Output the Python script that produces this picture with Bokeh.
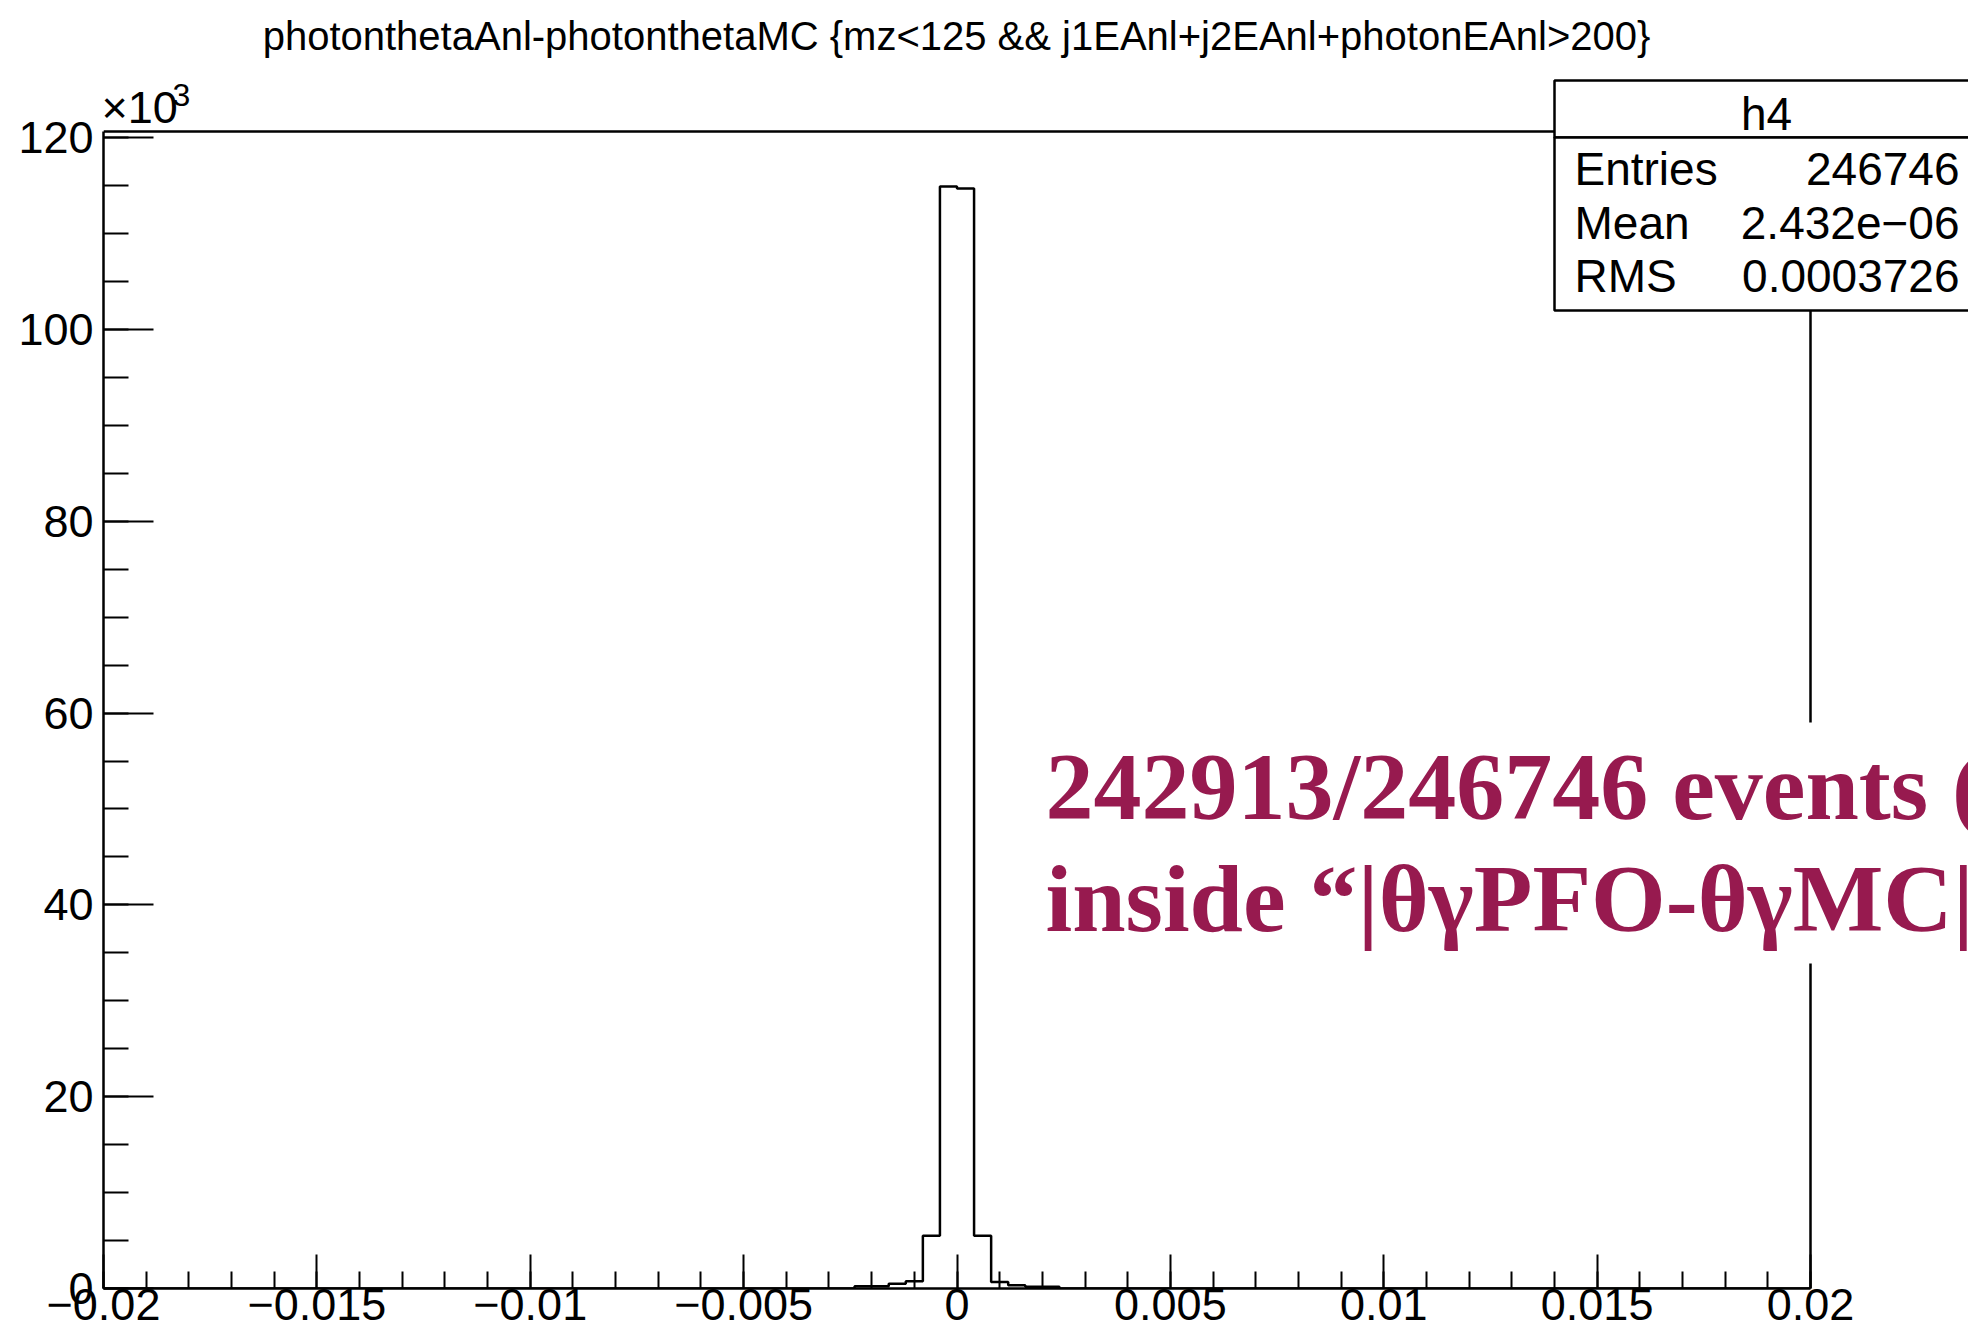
from bokeh.plotting import figure
from bokeh.models import Range1d, FixedTicker, Label, BoxAnnotation
from bokeh.embed import file_html
from bokeh.resources import INLINE

# Histogram h4: photonthetaAnl - photonthetaMC, 100 bins over [-0.02, 0.02]
x_lo, x_hi = -0.02, 0.02
bin_width = 0.0004
# lower edges of the non-empty bins and their contents
bin_low = [-0.0024, -0.0020, -0.0016, -0.0012, -0.0008, -0.0004,
           0.0000, 0.0004, 0.0008, 0.0012, 0.0016, 0.0020]
bin_counts = [240, 240, 490, 760, 5500, 114900,
              114700, 5500, 690, 350, 170, 170]

x_ticks = [-0.02, -0.015, -0.01, -0.005, 0.0, 0.005, 0.01, 0.015, 0.02]
x_tick_labels = ["\u22120.02", "\u22120.015", "\u22120.01", "\u22120.005", "0",
                 "0.005", "0.01", "0.015", "0.02"]
x_minor = [round(-0.02 + 0.001 * i, 4) for i in range(41)]
y_ticks = [0, 20000, 40000, 60000, 80000, 100000, 120000]
y_tick_labels = ["0", "20", "40", "60", "80", "100", "120"]
y_minor = [5000 * i for i in range(25)]

stats_name = "h4"
stats_rows = [("Entries", "246746"), ("Mean", "2.432e\u221206"), ("RMS", "0.0003726")]
title_text = "photonthetaAnl-photonthetaMC {mz<125 && j1EAnl+j2EAnl+photonEAnl>200}"
note_lines = ["242913/246746 events (", "inside \u201c|\u03b8\u03b3PFO-\u03b8\u03b3MC|"]

# canvas layout (pixels): the plotting frame fills everything right of the y axis
# and above the x axis; the histogram box itself spans L..AX_R, AX_T..(H-B)
W, H = 1968, 1338
L, B = 103, 50
AX_R, AX_T = 1810, 131
y_max = 1.05 * max(bin_counts)

ppx = (x_hi - x_lo) / (AX_R - L)
ppy = y_max / (H - B - AX_T)
x_frame_hi = x_lo + (W - L) * ppx
y_frame_hi = (H - B) * ppy

def xd(px):
    return x_lo + (px - L) * ppx

def yd(py):
    return (H - B - py) * ppy

def base(py, size):
    # anchor for a label whose alphabetic baseline should sit at pixel row py
    return yd(py - 0.355 * size)

p = figure(width=W, height=H, output_backend="svg", toolbar_location=None, title=None,
           x_range=Range1d(x_lo, x_frame_hi), y_range=Range1d(0, y_frame_hi),
           min_border_left=L, min_border_right=0, min_border_top=0, min_border_bottom=B,
           background_fill_color="white", border_fill_color="white",
           outline_line_color=None)
p.grid.visible = False

font = "Liberation Sans"
ax = p.xaxis[0]
ax.bounds = (x_lo, x_hi)
ax.ticker = FixedTicker(ticks=x_ticks, minor_ticks=x_minor)
ax.major_label_overrides = {t: s for t, s in zip(x_ticks, x_tick_labels)}
ax.major_tick_in, ax.major_tick_out = 34, 0
ax.minor_tick_in, ax.minor_tick_out = 17, 0
ax.axis_line_width = 2.5
ax.major_tick_line_width = 2
ax.minor_tick_line_width = 2
ax.major_label_text_font = font
ax.major_label_text_font_size = "45px"
ax.major_label_text_color = "black"
ax.major_label_standoff = 0

ay = p.yaxis[0]
ay.bounds = (0, y_max)
ay.ticker = FixedTicker(ticks=y_ticks, minor_ticks=y_minor)
ay.major_label_overrides = {t: s for t, s in zip(y_ticks, y_tick_labels)}
ay.major_tick_in, ay.major_tick_out = 50, 0
ay.minor_tick_in, ay.minor_tick_out = 25, 0
ay.axis_line_width = 2.5
ay.major_tick_line_width = 2
ay.minor_tick_line_width = 2
ay.major_label_text_font = font
ay.major_label_text_font_size = "45px"
ay.major_label_text_color = "black"
ay.major_label_standoff = 10

# top and right edges of the histogram box
p.line([x_lo, x_hi, x_hi], [y_max, y_max, 0], line_color="black", line_width=2.5)

# histogram outline
xs = [x_lo] + bin_low + [bin_low[-1] + bin_width, x_hi]
ys = [0] + bin_counts + [0, 0]
p.step(xs, ys, mode="after", line_color="black", line_width=2.5)

def text(px, py, s, size, align="left", color="black", fnt=font, style="normal"):
    p.add_layout(Label(x=xd(px), y=base(py, size), text=s, text_align=align,
                       text_baseline="alphabetic", text_font=fnt,
                       text_font_size=f"{size}px", text_font_style=style,
                       text_color=color))

# title
text(956, 50, title_text, 40, align="center")

# x10^3 multiplier
text(101, 123, "\u00d710", 45)
text(172, 106, "3", 32)

# statistics box
p.add_layout(BoxAnnotation(left=xd(1554), right=xd(1990), top=yd(80), bottom=yd(137),
                           fill_color="white", fill_alpha=1.0, line_color="black",
                           line_alpha=1.0, line_width=2.5, level="annotation"))
p.add_layout(BoxAnnotation(left=xd(1554), right=xd(1990), top=yd(137), bottom=yd(310),
                           fill_color="white", fill_alpha=1.0, line_color="black",
                           line_alpha=1.0, line_width=2.5, level="annotation"))
text(1766, 130, stats_name, 46, align="center")
for i, (k, v) in enumerate(stats_rows):
    yb = 185 + 53.5 * i
    text(1574, yb, k, 46)
    text(1959, yb, v, 46, align="right")

# annotation text on a white panel
p.add_layout(BoxAnnotation(left=xd(1040), right=xd(1990), top=yd(722), bottom=yd(963),
                           fill_color="white", fill_alpha=1.0, line_color=None,
                           level="annotation"))
for i, line in enumerate(note_lines):
    text(1045, 820 + 112 * i, line, 96, color="#971A4F",
         fnt="Liberation Serif", style="bold")

open("out.html", "w").write(file_html(p, INLINE))
